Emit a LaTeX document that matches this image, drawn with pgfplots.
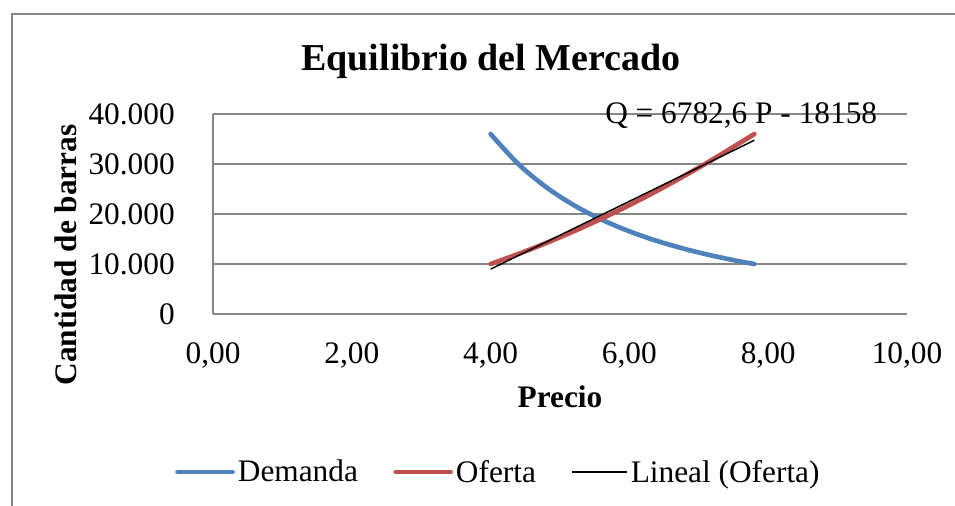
\documentclass[border=0pt]{standalone}
\usepackage{pgfplots}
\pgfplotsset{compat=1.18}
\usepackage{fontspec}
\setmainfont{Liberation Serif}
\definecolor{exblue}{RGB}{79,129,189}
\definecolor{exred}{RGB}{192,80,77}
\definecolor{exgray}{RGB}{134,134,134}
\newcommand\fs{\fontsize{23.5}{28}\selectfont}
\begin{document}
\begin{tikzpicture}
\useasboundingbox (0,0) rectangle (716.25pt,-379.5pt);
\begin{scope}[x=0.75pt,y=-0.75pt]
\draw[exgray, line width=1.3pt] (12,14) rectangle (1000,600);
\end{scope}
\begin{axis}[
 at={(159.75pt,-235.5pt)}, anchor=south west,
 scale only axis, width=520.5pt, height=150pt,
 xmin=0, xmax=10, ymin=0, ymax=40000,
 xtick={0,2,...,10}, ytick={0,10000,20000,30000,40000},
 axis lines*=left,
 axis line style={exgray, line width=1.4pt},
 ymajorgrids, grid style={exgray, line width=1.4pt},
 major tick length=0pt,
 scaled y ticks=false,
 clip=false,
 /pgf/number format/assume math mode=true,
 ticklabel style={font=\fs, inner sep=0pt},
 xticklabel style={anchor=base, yshift=-36.75pt, /pgf/number format/.cd, fixed, fixed zerofill, precision=2, use comma},
 yticklabel style={anchor=east, xshift=-28.5pt, /pgf/number format/.cd, fixed, precision=0, 1000 sep={.}},
 legend columns=3,
 legend style={draw=none, fill=none, at={(-0.0548,-0.79)}, anchor=west, inner sep=0pt, font=\fs, nodes={inner sep=0pt},
   /tikz/every odd column/.style={column sep=2.25pt}, /tikz/every even column/.style={column sep=26.5pt}},
 legend image code/.code={\draw[#1] (0pt,0pt) -- (41.25pt,0pt);},
]
\addplot[exblue, line width=3.5pt, line cap=round, smooth] coordinates {
 (4.0,36000) (4.4,29980) (4.8,25370) (5.2,21750) (5.6,18870) (6.0,16530)
 (6.4,14600) (6.8,13000) (7.2,11650) (7.6,10500) (7.8,10000)};
\addlegendentry{Demanda}
\addplot[exred, line width=3.5pt, line cap=round, smooth] coordinates {
 (4.0,10000) (4.4,12010) (4.8,14190) (5.2,16550) (5.6,19080) (6.0,21780)
 (6.4,24650) (6.8,27700) (7.2,30910) (7.6,34290) (7.8,36000)};
\addlegendentry{Oferta}
\addplot[black, line width=1.1pt] coordinates {(4.0,8972) (7.8,34746)};
\addlegendentry{Lineal (Oferta)}
\end{axis}
\begin{scope}[x=0.75pt,y=-0.75pt]
\node[font=\bfseries\fontsize{28.5}{34}\selectfont, anchor=base, inner sep=0pt] at (491,71) {Equilibrio del Mercado};
\node[font=\fs, anchor=base west, inner sep=0pt] at (605,123) {Q = 6782,6 P - 18158};
\node[font=\bfseries\fs, anchor=base, inner sep=0pt] at (560,407) {Precio};
\node[font=\bfseries\fs, anchor=base, rotate=90, inner sep=0pt] at (76,255) {Cantidad de barras};
\end{scope}
\end{tikzpicture}
\end{document}
